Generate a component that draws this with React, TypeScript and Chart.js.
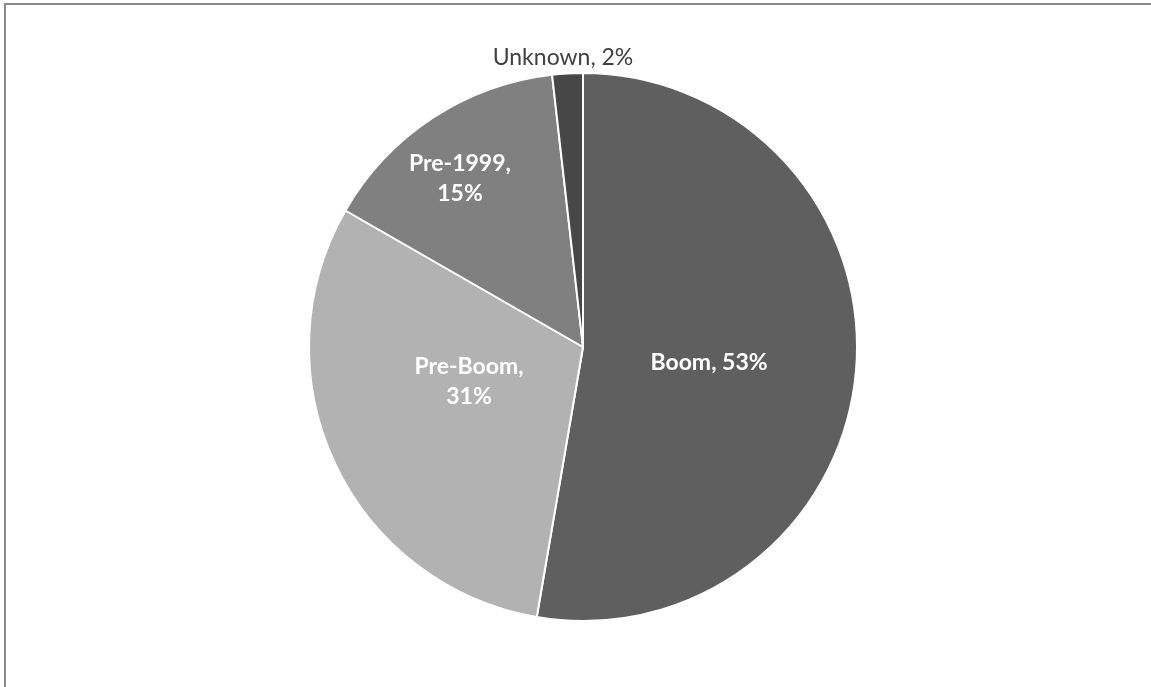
import React, { useEffect, useRef } from "react";
import { Chart, registerables } from "chart.js";

Chart.register(...registerables);

const categories = ["Boom", "Pre-Boom", "Pre-1999", "Unknown"];
const shares = [52.7, 30.6, 14.9, 1.8];
const sliceColors = ["#5f5f5f", "#b2b2b2", "#808080", "#474747"];
const labelColors = ["#ffffff", "#ffffff", "#ffffff", "#404040"];
const labelWeights = ["bold", "bold", "bold", "normal"];
// label anchor offsets relative to the pie centre, in units of radius
const labelAnchorX = [0.46, -0.416, -0.449, -0.073];
const labelAnchorY = [0.058, 0.128, -0.615, -1.055];
const labelSplit = [false, true, true, false];

const labelPlugin = {
  id: "sliceLabels",
  afterDatasetsDraw(chart: any) {
    const meta = chart.getDatasetMeta(0);
    const ctx = chart.ctx;
    const data = chart.data.datasets[0].data as number[];
    const total = data.reduce((a, b) => a + b, 0);
    ctx.save();
    ctx.textAlign = "center";
    ctx.textBaseline = "middle";
    meta.data.forEach((arc: any, i: number) => {
      const { x, y, outerRadius } = arc.getProps(["x", "y", "outerRadius"], true);
      const pct = Math.round((data[i] / total) * 100);
      const cx = x + labelAnchorX[i] * outerRadius;
      const cy = y + labelAnchorY[i] * outerRadius;
      ctx.fillStyle = labelColors[i];
      ctx.font = `${labelWeights[i]} 23px Lato`;
      const name = chart.data.labels[i];
      if (labelSplit[i]) {
        ctx.fillText(`${name},`, cx, cy - 15);
        ctx.fillText(`${pct}%`, cx, cy + 15);
      } else {
        ctx.fillText(`${name}, ${pct}%`, cx, cy);
      }
    });
    ctx.restore();
  },
};

export default function App() {
  const ref = useRef<HTMLCanvasElement>(null);
  useEffect(() => {
    document.body.style.margin = "0";
    const chart = new Chart(ref.current!, {
      type: "pie",
      data: {
        labels: categories,
        datasets: [
          {
            data: shares,
            backgroundColor: sliceColors,
            borderColor: "#ffffff",
            borderWidth: 2,
          },
        ],
      },
      options: {
        responsive: false,
        animation: false,
        radius: 274,
        layout: { padding: { top: 73, bottom: 66, left: 15, right: 0 } },
        plugins: {
          legend: { display: false },
          tooltip: { enabled: false },
        },
      },
      plugins: [labelPlugin],
    });
    return () => chart.destroy();
  }, []);
  return (
    <div style={{ position: "relative", width: 1151, height: 687, background: "#fff" }}>
      <canvas ref={ref} width={1151} height={687} style={{ position: "absolute", left: 0, top: 0 }} />
      <div
        style={{
          position: "absolute",
          left: 4,
          top: 3,
          right: 0,
          bottom: 0,
          borderTop: "2px solid #888",
          borderLeft: "2px solid #888",
          pointerEvents: "none",
        }}
      />
    </div>
  );
}
